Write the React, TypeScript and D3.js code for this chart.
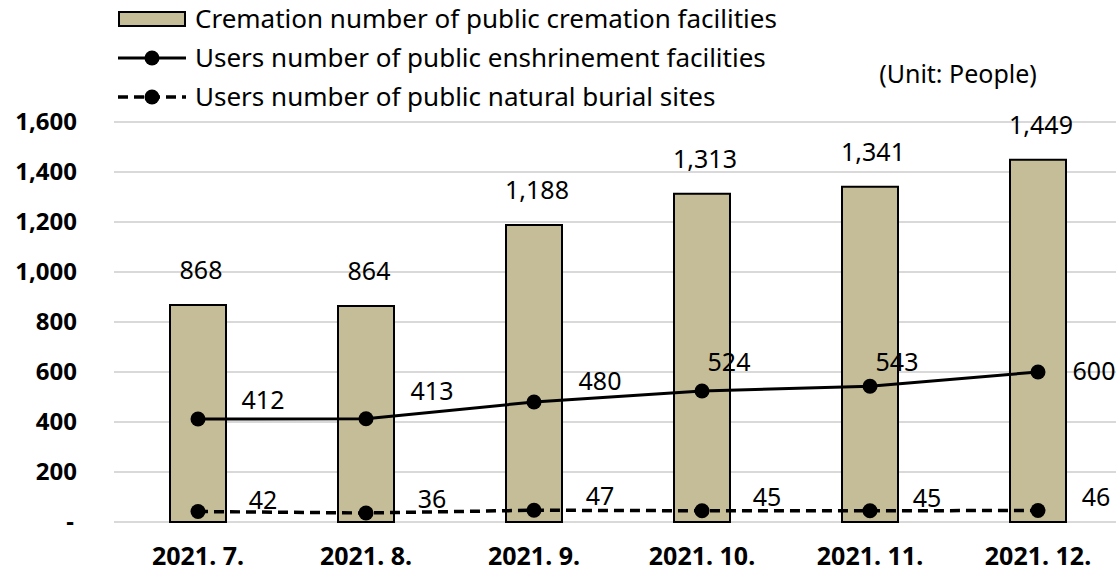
import * as d3 from "d3";
import React from "react";

const months = ["2021. 7.", "2021. 8.", "2021. 9.", "2021. 10.", "2021. 11.", "2021. 12."];
const cremation = [868, 864, 1188, 1313, 1341, 1449];
const enshrine = [412, 413, 480, 524, 543, 600];
const burial = [42, 36, 47, 45, 45, 46];
const yTicks = [0, 200, 400, 600, 800, 1000, 1200, 1400, 1600];

// label nudges (px) copied from the source chart layout
const enshrineNudge = [[65, -19], [66, -28], [66, -21], [27, -29], [27, -24], [56, -1]];
const burialNudge = [[65, -11], [66, -14], [66, -14], [65, -14], [57, -13], [58, -13]];

const width = 1116;
const height = 576;
const font = "'Noto Sans', 'Open Sans', sans-serif";

const App = () => {
  const x = d3.scaleBand<string>().domain(months).range([114, 1122]).paddingInner(2 / 3).paddingOuter(1 / 3);
  const y = d3.scaleLinear().domain([0, 1600]).range([522, 122]);
  const cx = (i: number) => (x(months[i]) ?? 0) + x.bandwidth() / 2;
  const fmt = d3.format(",");

  const line = d3
    .line<number>()
    .x((_, i) => cx(i))
    .y((d) => y(d));

  return (
    <svg width={width} height={height} style={{ position: "absolute", left: 0, top: 0, background: "#fff" }} fontFamily={font}>
      {/* gridlines */}
      {yTicks.map((t) => (
        <line key={t} x1={114} x2={width} y1={y(t)} y2={y(t)} stroke="#d9d9d9" strokeWidth={2} />
      ))}
      {/* y tick labels */}
      {yTicks.map((t) => (
        <text key={"l" + t} x={t === 0 ? 74 : 77} y={y(t)} dy="0.35em" textAnchor="end" fontSize={24} fontWeight="bold">
          {t === 0 ? "-" : fmt(t)}
        </text>
      ))}
      {/* bars */}
      {cremation.map((v, i) => (
        <g key={"b" + i}>
          <rect x={x(months[i])} y={y(v)} width={x.bandwidth()} height={y(0) - y(v)} fill="#c4bd97" stroke="#000" strokeWidth={2} />
          <text x={cx(i) + 3} y={y(v) - 35} dy="0.35em" textAnchor="middle" fontSize={25}>
            {fmt(v)}
          </text>
        </g>
      ))}
      {/* lines */}
      <path d={line(enshrine) ?? ""} fill="none" stroke="#000" strokeWidth={3} />
      <path d={line(burial) ?? ""} fill="none" stroke="#000" strokeWidth={3.5} strokeDasharray="10,6" />
      {enshrine.map((v, i) => (
        <g key={"e" + i}>
          <circle cx={cx(i)} cy={y(v)} r={7.5} fill="#000" />
          <text x={cx(i) + enshrineNudge[i][0]} y={y(v) + enshrineNudge[i][1]} dy="0.35em" textAnchor="middle" fontSize={25}>
            {fmt(v)}
          </text>
        </g>
      ))}
      {burial.map((v, i) => (
        <g key={"d" + i}>
          <circle cx={cx(i)} cy={y(v)} r={7.5} fill="#000" />
          <text x={cx(i) + burialNudge[i][0]} y={y(v) + burialNudge[i][1]} dy="0.35em" textAnchor="middle" fontSize={25}>
            {fmt(v)}
          </text>
        </g>
      ))}
      {/* x labels */}
      {months.map((m, i) => (
        <text key={m} x={cx(i)} y={556} dy="0.35em" textAnchor="middle" fontSize={25} fontWeight="bold" style={{ whiteSpace: "pre" }}>
          {m}
        </text>
      ))}
      {/* legend */}
      <rect x={119} y={12} width={66} height={14} fill="#c4bd97" stroke="#000" strokeWidth={2} />
      <text x={195} y={19} dy="0.35em" fontSize={26}>Cremation number of public cremation facilities</text>
      <line x1={118} x2={186} y1={58} y2={58} stroke="#000" strokeWidth={3} />
      <circle cx={152} cy={58} r={7.5} fill="#000" />
      <text x={195} y={58} dy="0.35em" fontSize={26}>Users number of public enshrinement facilities</text>
      <line x1={118} x2={186} y1={97} y2={97} stroke="#000" strokeWidth={3.5} strokeDasharray="10,6" />
      <circle cx={152} cy={97} r={7.5} fill="#000" />
      <text x={195} y={97} dy="0.35em" fontSize={26}>Users number of public natural burial sites</text>
      <text x={958} y={74} dy="0.35em" textAnchor="middle" fontSize={25}>(Unit: People)</text>
    </svg>
  );
};

export default App;
